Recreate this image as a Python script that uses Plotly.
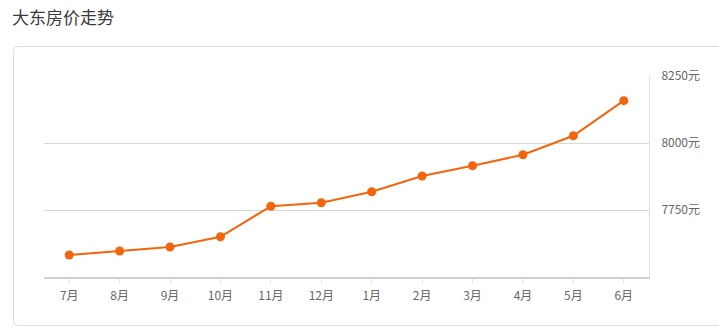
import plotly.graph_objects as go

title = "大东房价走势"
months = ["7月", "8月", "9月", "10月", "11月", "12月", "1月", "2月", "3月", "4月", "5月", "6月"]
prices = [7582, 7597, 7612, 7650, 7764, 7777, 7818, 7877, 7915, 7956, 8027, 8158]
y_tick_vals = [7750, 8000, 8250]
y_tick_text = ["7750元", "8000元", "8250元"]

W, H = 719, 336
L, R, T, B = 44, 70, 76, 59
pw, ph = W - L - R, H - T - B

def px(x):
    return (x - L) / pw

def py(y):
    return (H - B - y) / ph

font = "Noto Sans CJK SC, Microsoft YaHei, sans-serif"

fig = go.Figure()
fig.add_trace(go.Scatter(
    x=months, y=prices, mode="lines+markers",
    line=dict(color="#f3650d", width=2),
    marker=dict(color="#f3650d", size=9),
    hoverinfo="x+y",
))

# outer rounded box (in paper coords)
x0, x1, y0, y1, r = 13.5, 740, 46.5, 325.5, 5
rx, ry = r / pw, r / ph
path = (f"M {px(x0)+rx},{py(y0)} L {px(x1)-rx},{py(y0)} Q {px(x1)},{py(y0)} {px(x1)},{py(y0)-ry} "
        f"L {px(x1)},{py(y1)+ry} Q {px(x1)},{py(y1)} {px(x1)-rx},{py(y1)} "
        f"L {px(x0)+rx},{py(y1)} Q {px(x0)},{py(y1)} {px(x0)},{py(y1)+ry} "
        f"L {px(x0)},{py(y0)-ry} Q {px(x0)},{py(y0)} {px(x0)+rx},{py(y0)} Z")

fig.update_layout(
    width=W, height=H,
    margin=dict(l=L, r=R, t=T, b=B),
    paper_bgcolor="white", plot_bgcolor="white",
    showlegend=False,
    font=dict(family=font, color="#666", size=12),
    title=dict(text=title, x=12 / W, xref="container", xanchor="left",
               y=1 - 18 / H, yref="container", yanchor="middle",
               font=dict(family=font, size=17, color="#3a3a3a")),
    shapes=[dict(type="path", path=path, xref="paper", yref="paper",
                 line=dict(color="#dcdcdc", width=1), layer="below")],
    xaxis=dict(
        type="category", range=[-0.5, 11.5],
        showgrid=False, showline=True, linecolor="#d0d0d0", linewidth=2,
        ticks="outside", ticklen=4, tickcolor="#e0e0e0", tickwidth=1,
        tickfont=dict(size=12, color="#666"), ticklabelstandoff=3,
        fixedrange=True,
    ),
    yaxis=dict(
        side="right", range=[7500, 8250],
        tickvals=y_tick_vals, ticktext=y_tick_text,
        showgrid=True, gridcolor="#d8d8d8", gridwidth=1,
        showline=True, linecolor="#e0e0e0", linewidth=1,
        zeroline=False, ticks="", ticklabelstandoff=9,
        tickfont=dict(size=12, color="#666"),
        fixedrange=True,
    ),
)

fig.write_html("out.html")
